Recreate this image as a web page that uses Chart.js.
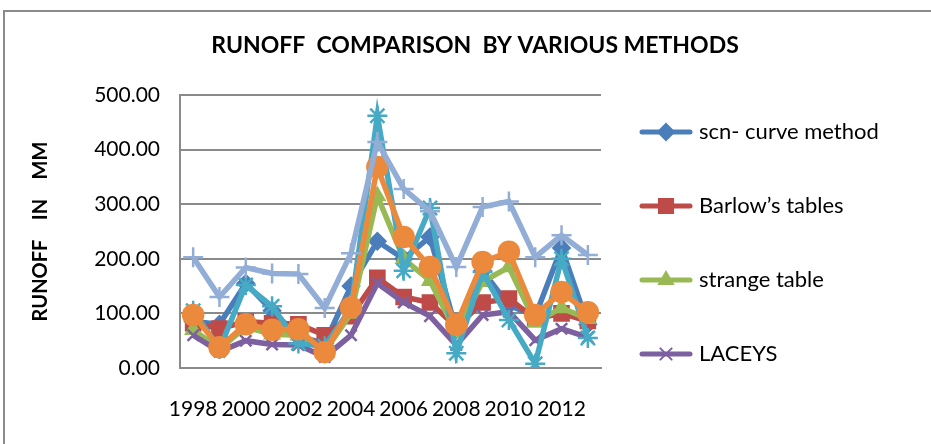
<!DOCTYPE html>
<html>
<head>
<meta charset="utf-8">
<script src="https://cdn.jsdelivr.net/npm/chart.js@4.4.1/dist/chart.umd.min.js"></script>
<style>
  html, body { margin: 0; padding: 0; background: #ffffff; }
  #wrap { width: 931px; height: 444px; }
</style>
</head>
<body>
<div id="wrap"><canvas id="c" width="931" height="444"></canvas></div>
<script>
// Years on the category axis
const years = ['1998','1999','2000','2001','2002','2003','2004','2005','2006','2007','2008','2009','2010','2011','2012','2013'];

// Runoff (mm) estimated by each method
const scnCurve   = [85, 80, 155, 105, 58, 45, 150, 232, 200, 240, 70, 178, 115, 95, 220, 80];
const barlow     = [82, 72, 85, 82, 80, 60, 95, 165, 130, 120, 75, 120, 127, 90, 100, 86];
const strange    = [70, 35, 75, 62, 60, 30, 100, 315, 200, 160, 65, 158, 185, 84, 110, 90];
const laceys     = [60, 30, 50, 43, 42, 20, 60, 155, 120, 95, 42, 97, 103, 51, 72, 56];
const series5    = [105, 35, 152, 113, 45, 40, 110, 462, 178, 293, 27, 176, 88, 8, 200, 55];
const series6    = [97, 38, 80, 70, 71, 29, 111, 368, 240, 185, 79, 194, 213, 97, 139, 102];
const series7    = [203, 130, 184, 173, 172, 110, 210, 414, 328, 287, 185, 295, 305, 203, 243, 207];

// Value-axis ticks
const yTicks = [0, 100, 200, 300, 400, 500];

const FONT = 'Lato, "Open Sans", sans-serif';

const seriesDefs = [
  { label: 'scn- curve method', data: scnCurve, color: '#4A7EBB', style: 'rectRot', r: 8 },
  { label: 'Barlow\u2019s tables', data: barlow, color: '#BE4B48', style: 'rect', r: 10 },
  { label: 'strange table', data: strange, color: '#98B954', style: 'triangle', r: 8 },
  { label: 'LACEYS', data: laceys, color: '#7D60A0', style: 'crossRot', r: 8 },
  { label: 'Series5', data: series5, color: '#46AAC5', style: 'star', r: 10 },
  { label: 'Series6', data: series6, color: '#EB8A3C', style: 'circle', r: 10 },
  { label: 'Series7', data: series7, color: '#93AED6', style: 'cross', r: 10 }
];

const datasets = seriesDefs.map((s, i) => ({
  label: s.label,
  data: s.data,
  borderColor: s.color,
  backgroundColor: s.color,
  pointBackgroundColor: s.color,
  pointBorderColor: s.color,
  pointStyle: s.style,
  pointRadius: s.r,
  pointBorderWidth: 2.5,
  borderWidth: 5.5,
  tension: 0,
  order: seriesDefs.length - i
}));

// Outer frame and chart heading
const framePlugin = {
  id: 'frame',
  beforeDraw(chart) {
    const ctx = chart.ctx;
    ctx.save();
    ctx.fillStyle = '#ffffff';
    ctx.fillRect(0, 0, chart.width, chart.height);
    ctx.strokeStyle = '#8a8a8a';
    ctx.lineWidth = 2;
    ctx.strokeRect(4, 11, 1200, 1200);
    ctx.restore();
  },
  afterDraw(chart) {
    const ctx = chart.ctx;
    ctx.save();
    ctx.fillStyle = '#000000';
    ctx.font = 'bold 23px ' + FONT;
    ctx.textAlign = 'center';
    ctx.textBaseline = 'middle';
    ctx.fillText('RUNOFF  COMPARISON  BY VARIOUS METHODS', 475, 46);
    ctx.restore();
  }
};

// Legend listing the first four methods, each with line and marker
const legendPlugin = {
  id: 'sideLegend',
  afterDraw(chart) {
    const ctx = chart.ctx;
    const ys = [132, 206, 280, 354];
    ctx.save();
    for (let i = 0; i < 4; i++) {
      const s = seriesDefs[i];
      const y = ys[i];
      ctx.strokeStyle = s.color;
      ctx.lineWidth = 5;
      ctx.lineCap = 'round';
      ctx.beginPath();
      ctx.moveTo(642, y);
      ctx.lineTo(690, y);
      ctx.stroke();
      ctx.fillStyle = s.color;
      ctx.strokeStyle = s.color;
      ctx.lineWidth = 2;
      Chart.helpers.drawPoint(ctx, { pointStyle: s.style, radius: s.r, borderWidth: 2, rotation: 0 }, 666, y);
      ctx.fillStyle = '#000000';
      ctx.font = '22px ' + FONT;
      ctx.textAlign = 'left';
      ctx.textBaseline = 'middle';
      ctx.fillText(s.label, 699, y);
    }
    ctx.restore();
  }
};

new Chart(document.getElementById('c'), {
  type: 'line',
  data: { labels: years, datasets },
  options: {
    responsive: false,
    animation: false,
    layout: { padding: { left: 0, top: 95, right: 330, bottom: 0 } },
    plugins: {
      legend: { display: false },
      title: { display: false },
      tooltip: { enabled: false }
    },
    scales: {
      x: {
        type: 'category',
        offset: true,
        grid: { display: false, drawTicks: false },
        border: { display: true, color: '#8a8a8a', width: 2 },
        ticks: {
          autoSkip: false,
          maxRotation: 0,
          minRotation: 0,
          padding: 29,
          color: '#000000',
          font: { family: FONT, size: 21 },
          callback: (v, i) => (i % 2 === 0 ? years[i] : '')
        },
        afterFit(scale) { scale.height = 444 - 368; }
      },
      y: {
        min: 0,
        max: 500,
        afterBuildTicks(scale) { scale.ticks = yTicks.map(v => ({ value: v })); },
        grid: { color: '#8a8a8a', lineWidth: 2, drawTicks: false },
        border: { display: true, color: '#8a8a8a', width: 2 },
        ticks: {
          padding: 20,
          color: '#000000',
          font: { family: FONT, size: 21 },
          callback: v => v.toFixed(2)
        },
        title: {
          display: true,
          text: 'RUNOFF    IN    MM',
          color: '#000000',
          font: { family: FONT, size: 20, weight: 'bold' },
          padding: { top: 29, bottom: 0 }
        },
        afterFit(scale) { scale.width = 180; }
      }
    }
  },
  plugins: [framePlugin, legendPlugin]
});
</script>
</body>
</html>
